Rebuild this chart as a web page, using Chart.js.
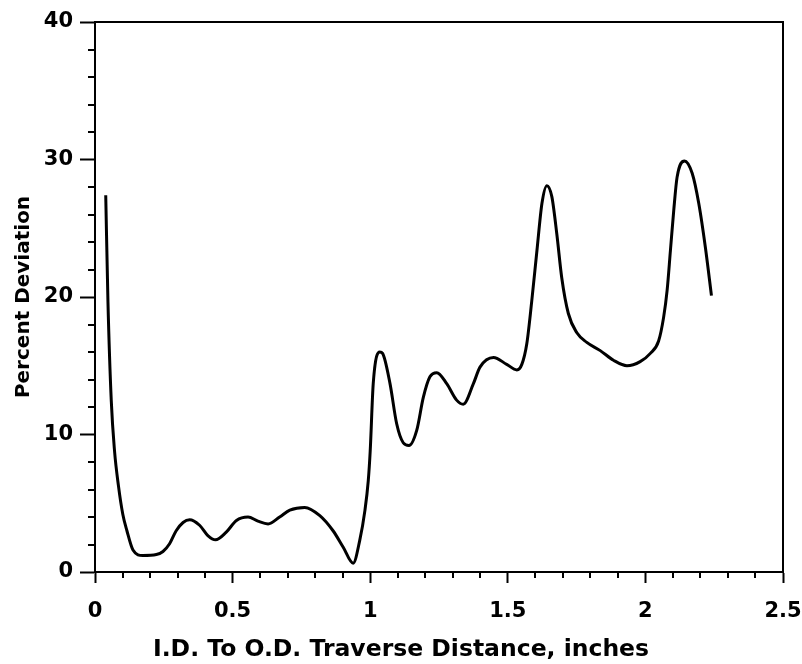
<!DOCTYPE html>
<html>
<head>
<meta charset="utf-8">
<script src="https://cdn.jsdelivr.net/npm/chart.js@4/dist/chart.umd.min.js"></script>
<style>
  html, body { margin: 0; padding: 0; background: #fff; }
  #wrap { width: 802px; height: 664px; }
</style>
</head>
<body>
<div id="wrap"><canvas id="devChart" width="802" height="664"></canvas></div>
<script>
// Traverse distance (inches) and percent deviation
const distance = [0.039, 0.047, 0.059, 0.071, 0.085, 0.101, 0.116, 0.138, 0.174, 0.223, 0.247, 0.271,
    0.295, 0.32, 0.344, 0.38, 0.41, 0.438, 0.477, 0.514, 0.556, 0.592, 0.629, 0.671, 0.708, 0.762,
    0.817, 0.865, 0.902, 0.938, 0.962, 0.981, 0.993, 1.0, 1.011, 1.035, 1.045, 1.072, 1.096, 1.12,
    1.141, 1.169, 1.193, 1.217, 1.242, 1.278, 1.314, 1.338, 1.375, 1.399, 1.448, 1.496, 1.533, 1.551,
    1.569, 1.587, 1.606, 1.624, 1.642, 1.66, 1.678, 1.696, 1.72, 1.751, 1.787, 1.836, 1.884, 1.933,
    1.981, 2.018, 2.048, 2.066, 2.079, 2.091, 2.103, 2.115, 2.142, 2.17, 2.194, 2.218, 2.24];
const deviation = [27.4, 19.7, 12.5, 8.8, 6.3, 4.2, 3.0, 1.6, 1.2, 1.27, 1.49, 2.05,
    3.0, 3.6, 3.8, 3.4, 2.65, 2.34, 2.9, 3.75, 4.0, 3.7, 3.5, 4.0, 4.5, 4.7,
    4.1, 3.0, 1.8, 0.64, 2.3, 4.5, 6.65, 8.8, 13.7, 16.0, 15.9, 13.7, 10.8, 9.4,
    9.2, 10.3, 12.7, 14.2, 14.5, 13.7, 12.5, 12.2, 13.7, 14.9, 15.6, 15.1, 14.7, 15.1,
    16.6, 19.7, 23.4, 26.8, 28.1, 27.3, 24.6, 21.4, 18.8, 17.4, 16.7, 16.1, 15.4, 15.0,
    15.3, 15.9, 16.8, 18.5, 20.5, 23.4, 26.3, 28.7, 29.9, 29.0, 26.8, 23.6, 20.1];

const xTicks = [0, 0.5, 1, 1.5, 2, 2.5];
const yTicks = [0, 10, 20, 30, 40];

const fontFam = '"DejaVu Sans", sans-serif';

// minor tick marks and the box round the plot
const framePlugin = {
    id: 'frame',
    afterDraw(chart) {
        const ctx = chart.ctx;
        const a = chart.chartArea;
        const xs = chart.scales.x, ys = chart.scales.y;
        ctx.save();
        ctx.strokeStyle = '#000';
        ctx.lineWidth = 2;
        ctx.beginPath();
        ctx.moveTo(a.left, a.top);
        ctx.lineTo(a.right, a.top);
        ctx.lineTo(a.right, a.bottom);
        ctx.stroke();
        ctx.beginPath();
        for (let i = 1; i < 25; i++) {
            if (i % 5 === 0) continue;
            const px = Math.round(xs.getPixelForValue(i / 10));
            ctx.moveTo(px, a.bottom);
            ctx.lineTo(px, a.bottom + 6);
        }
        for (let i = 1; i < 20; i++) {
            if (i % 5 === 0) continue;
            const py = Math.round(ys.getPixelForValue(i * 2));
            ctx.moveTo(a.left - 7, py);
            ctx.lineTo(a.left, py);
        }
        ctx.stroke();
        ctx.restore();
    }
};

new Chart(document.getElementById('devChart').getContext('2d'), {
    type: 'line',
    data: {
        datasets: [{
            data: distance.map((d, i) => ({ x: d, y: deviation[i] })),
            borderColor: '#000',
            borderWidth: 3,
            pointRadius: 0,
            fill: false,
            cubicInterpolationMode: 'monotone'
        }]
    },
    options: {
        responsive: false,
        animation: false,
        layout: { padding: { top: 22, right: 0, bottom: 0, left: 0 } },
        plugins: {
            legend: { display: false },
            tooltip: { enabled: false },
            title: {
                display: true,
                position: 'bottom',
                text: 'I.D. To O.D. Traverse Distance, inches',
                color: '#000',
                padding: { top: 0, bottom: 0 },
                font: { family: fontFam, size: 23.5, weight: 'bold', lineHeight: 1.2 }
            }
        },
        scales: {
            x: {
                type: 'linear',
                min: 0, max: 2.5,
                afterFit(scale) {
                    scale.height = 664 - 572 - 23.5 * 1.2;
                    scale.paddingLeft = 0;
                    scale.paddingRight = 19;
                },
                afterBuildTicks(scale) { scale.ticks = xTicks.map(v => ({ value: v })); },
                border: { color: '#000', width: 2 },
                grid: { drawOnChartArea: false, tickLength: 11, tickColor: '#000', tickWidth: 2 },
                ticks: {
                    color: '#000',
                    padding: 16,
                    maxRotation: 0,
                    font: { family: fontFam, size: 21, weight: 'bold' },
                    callback: v => String(v)
                }
            },
            y: {
                min: 0, max: 40,
                afterFit(scale) {
                    scale.width = 95;
                    scale.paddingTop = 0;
                    scale.paddingBottom = 0;
                },
                afterBuildTicks(scale) { scale.ticks = yTicks.map(v => ({ value: v })); },
                border: { color: '#000', width: 2 },
                grid: { drawOnChartArea: false, tickLength: 15, tickColor: '#000', tickWidth: 2 },
                ticks: {
                    color: '#000',
                    padding: 7,
                    font: { family: fontFam, size: 21, weight: 'bold' },
                    callback: v => String(v)
                },
                title: {
                    display: true,
                    text: 'Percent Deviation',
                    color: '#000',
                    padding: { top: 12, bottom: 0 },
                    font: { family: fontFam, size: 20, weight: 'bold' }
                }
            }
        }
    },
    plugins: [framePlugin]
});
</script>
</body>
</html>
